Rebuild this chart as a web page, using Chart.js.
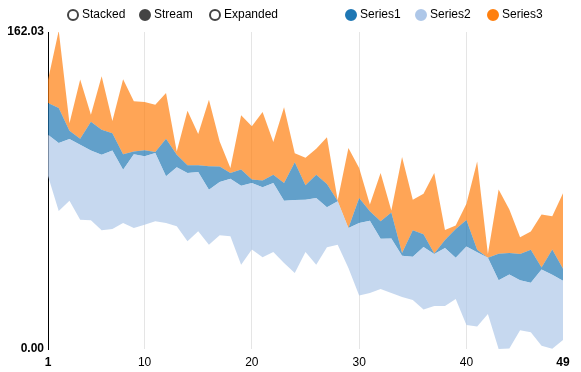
<!DOCTYPE html>
<html>
<head>
<meta charset="utf-8">
<script src="https://cdn.jsdelivr.net/npm/chart.js@4.4.1/dist/chart.umd.min.js"></script>
<style>
    body { margin: 0; background: #fff; font-family: Arial, "Liberation Sans", sans-serif; }
    #wrap { position: relative; width: 581px; height: 372px; }
    #chart { position: absolute; left: 0; top: 0; }
    .dot { position: absolute; top: 9px; width: 8px; height: 8px; border-radius: 50%; border: 2px solid #444; box-sizing: content-box; }
    .txt { position: absolute; top: 7px; font-size: 12px; line-height: 15px; color: #000; white-space: nowrap; }
</style>
</head>
<body>
<div id="wrap">
    <canvas id="chart" width="581" height="372"></canvas>
    <div id="legend"></div>
</div>
<script>
// tick labels
const xTicks = [1, 10, 20, 30, 40, 49];
const yTicks = [0, 162.03];

// stream layout: moving baseline + layer thicknesses
const streamBase = [88.4, 70.5, 75.8, 66.1, 65.8, 60.7, 61.3, 64.4, 61.8, 63.5,
    65.3, 64.4, 62.7, 55.1, 60.2, 53.3, 58.1, 57.6, 43.1, 50.8,
    46.9, 49.6, 44.0, 38.8, 49.6, 43.1, 52.0, 53.3, 41.4, 27.4,
    28.6, 30.7, 28.6, 26.6, 25.0, 20.2, 22.0, 22.0, 25.6, 12.3,
    11.5, 17.9, 0.0, 0.2, 9.6, 8.5, 1.7, 0.1, 4.6];
const series1 = [16.2, 17.9, 4.2, 3.1, 14.7, 12.8, 8.8, 8.0, 1.4, 3.1,
    0.5, 19.2, 6.4, 3.9, 3.4, 12.0, 8.0, 2.9, 8.2, 1.7,
    3.4, 4.2, 9.0, 19.4, 7.4, 11.9, 11.9, 0.2, 0.0, 12.8,
    4.8, 8.9, 13.3, 1.5, 13.5, 6.6, 0.2, 4.1, 14.7, 13.5,
    1.3, 0.0, 13.6, 11.0, 13.4, 16.9, 1.0, 12.9, 6.1];
const series2 = [21.1, 34.8, 31.5, 38.3, 35.6, 38.6, 40.2, 27.2, 37.8, 35.0,
    34.9, 23.9, 30.2, 34.9, 30.3, 28.1, 27.2, 29.4, 40.4, 34.1,
    35.8, 35.3, 31.8, 37.3, 26.7, 34.1, 20.4, 22.2, 20.4, 37.0,
    37.0, 25.7, 27.9, 21.0, 22.2, 31.9, 26.6, 29.6, 21.1, 40.1,
    37.9, 28.7, 35.1, 37.9, 25.6, 25.3, 38.9, 37.9, 30.3];
const series3 = [11.8, 39.5, 3.9, 30.2, 3.6, 27.3, 6.3, 38.3, 25.6, 24.7,
    24.2, 23.4, 1.7, 27.9, 16.0, 34.0, 12.8, 2.6, 27.8, 27.3,
    35.1, 16.7, 38.8, 4.6, 14.0, 13.3, 23.9, 0.3, 40.9, 15.3,
    3.4, 24.7, 1.0, 49.1, 15.6, 20.7, 41.2, 5.1, 1.7, 8.3,
    45.1, 1.9, 32.8, 22.2, 8.5, 9.4, 27.2, 16.9, 38.6];

const seriesColors = { Series1: '#1f77b4', Series2: '#aec7e8', Series3: '#ff7f0e' };
const fillColors = { Series1: 'rgba(31,119,180,0.7)', Series2: 'rgba(174,199,232,0.7)', Series3: 'rgba(255,127,14,0.7)' };

// legend (controls + series)
const legendItems = [
    { cx: 73, label: 'Stacked', fill: '#fff', stroke: '#444' },
    { cx: 145, label: 'Stream', fill: '#444', stroke: '#444' },
    { cx: 215, label: 'Expanded', fill: '#fff', stroke: '#444' },
    { cx: 351, label: 'Series1', fill: seriesColors.Series1, stroke: seriesColors.Series1 },
    { cx: 421, label: 'Series2', fill: seriesColors.Series2, stroke: seriesColors.Series2 },
    { cx: 493, label: 'Series3', fill: seriesColors.Series3, stroke: seriesColors.Series3 }
];
const legend = document.getElementById('legend');
legendItems.forEach(it => {
    const d = document.createElement('span');
    d.className = 'dot';
    d.style.left = (it.cx - 6) + 'px';
    d.style.background = it.fill;
    d.style.borderColor = it.stroke;
    legend.appendChild(d);
    const t = document.createElement('span');
    t.className = 'txt';
    t.style.left = (it.cx + 9) + 'px';
    t.textContent = it.label;
    legend.appendChild(t);
});

const toPoints = arr => arr.map((v, i) => ({ x: i + 1, y: v }));
const isEnd = c => c.tick && (c.tick.value === 1 || c.tick.value === 49);

new Chart(document.getElementById('chart'), {
    type: 'line',
    data: {
        datasets: [
            { label: 'base', data: toPoints(streamBase), fill: false, borderColor: 'rgba(0,0,0,0)', backgroundColor: 'rgba(0,0,0,0)' },
            { label: 'Series2', data: toPoints(series2), fill: '-1', borderColor: 'rgba(0,0,0,0)', backgroundColor: fillColors.Series2 },
            { label: 'Series1', data: toPoints(series1), fill: '-1', borderColor: 'rgba(0,0,0,0)', backgroundColor: fillColors.Series1 },
            { label: 'Series3', data: toPoints(series3), fill: '-1', borderColor: 'rgba(0,0,0,0)', backgroundColor: fillColors.Series3 }
        ]
    },
    options: {
        responsive: false,
        animation: false,
        layout: { padding: { top: 32, right: 18, left: 0, bottom: 0 } },
        plugins: { legend: { display: false }, tooltip: { enabled: false } },
        elements: { point: { radius: 0 }, line: { tension: 0, borderWidth: 0 } },
        scales: {
            x: {
                type: 'linear', min: 1, max: 49,
                afterBuildTicks: s => { s.ticks = xTicks.map(v => ({ value: v })); },
                afterFit: s => { s.height = 23; },
                grid: { color: c => isEnd(c) ? 'rgba(0,0,0,0)' : '#e5e5e5', drawTicks: false },
                border: { display: false },
                ticks: {
                    padding: 6, color: '#000', maxRotation: 0, autoSkip: false,
                    font: c => ({ family: 'Arial', size: 12, weight: isEnd(c) ? 'bold' : 'normal' })
                }
            },
            y: {
                stacked: true, min: 0, max: 162.03,
                afterBuildTicks: s => { s.ticks = yTicks.map(v => ({ value: v })); },
                afterFit: s => { s.width = 48; },
                grid: { display: false, drawTicks: false },
                border: { display: true, color: '#000', width: 1 },
                ticks: { padding: 4, color: '#000', font: { family: 'Arial', size: 12, weight: 'bold' }, callback: v => v.toFixed(2) }
            }
        }
    }
});
</script>
</body>
</html>
